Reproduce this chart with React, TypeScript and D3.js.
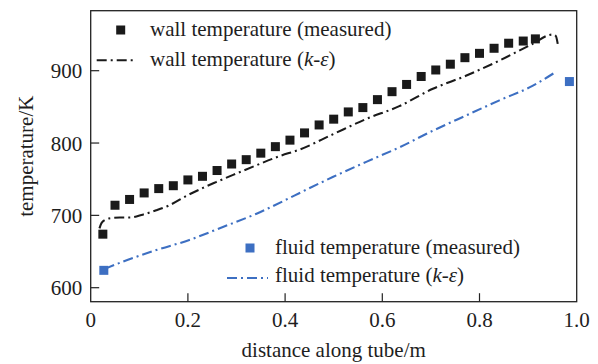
import React from "react";
import * as d3 from "d3";

// ---- data ----
const wallMeasuredX = [0.025, 0.05, 0.08, 0.11, 0.14, 0.17, 0.2, 0.23, 0.26, 0.29, 0.32, 0.35, 0.38, 0.41, 0.44, 0.47, 0.5, 0.53, 0.56, 0.59, 0.62, 0.65, 0.68, 0.71, 0.74, 0.77, 0.8, 0.83, 0.86, 0.89, 0.915];
const wallMeasuredT = [674, 714, 722, 731, 737, 741, 749, 754, 762, 771, 777, 786, 795, 804, 814, 825, 833, 843, 849, 860, 871, 881, 892, 901, 909, 918, 924, 931, 938, 941, 944];

const wallModelX = [0.018, 0.022, 0.03, 0.04, 0.06, 0.08, 0.107, 0.135, 0.162, 0.197, 0.231, 0.258, 0.293, 0.34, 0.389, 0.43, 0.498, 0.566, 0.635, 0.704, 0.772, 0.841, 0.909, 0.95, 0.957, 0.961];
const wallModelT = [682, 689, 694, 696, 697, 697, 701, 707, 714, 727, 738, 746, 756, 769, 782, 791, 812, 833, 851, 875, 893, 914, 937, 950, 948, 937];

const fluidMeasuredX = [0.027, 0.985];
const fluidMeasuredT = [624, 885];

const fluidModelX = [0.029, 0.066, 0.135, 0.203, 0.272, 0.34, 0.409, 0.43, 0.498, 0.567, 0.635, 0.704, 0.772, 0.841, 0.909, 0.954];
const fluidModelT = [626, 636, 652, 666, 684, 702, 724, 731, 753, 774, 794, 817, 838, 859, 879, 897];

const xTicks = [0, 0.2, 0.4, 0.6, 0.8, 1.0];
const xTickLabels = ["0", "0.2", "0.4", "0.6", "0.8", "1.0"];
const yTicks = [600, 700, 800, 900];

const W = 598;
const H = 364;
const left = 90.7, right = 576.7, top = 10.7, bottom = 301.7;
const FONT = "Liberation Serif, Times New Roman, DejaVu Serif, serif";
const BLACK = "#1a1a1a";
const BLUE = "#3d6fc2";
const DASH = "10,4,2,4";
const TXT = "#1e1e1e";

export default function App() {
  const x = d3.scaleLinear().domain([0, 1]).range([left, right]);
  const y = d3.scaleLinear().domain([600, 900]).range([287.7, 70.7]);

  const wallLine = d3
    .line<number>()
    .x((_, i) => x(wallModelX[i]))
    .y((d) => y(d))
    .curve(d3.curveMonotoneX)(wallModelT) as string;

  const fluidLine = d3
    .line<number>()
    .x((_, i) => x(fluidModelX[i]))
    .y((d) => y(d))
    .curve(d3.curveMonotoneX)(fluidModelT) as string;

  const sq = 9;
  const fs = 21;
  const ts: React.CSSProperties = { fontFamily: FONT, fontSize: fs };
  const it: React.CSSProperties = { fontFamily: FONT, fontStyle: "italic" };

  return (
    <svg
      width={W}
      height={H}
      style={{ position: "absolute", left: 0, top: 0, background: "#fff", fontFamily: FONT }}
    >
      <rect x={0} y={0} width={W} height={H} fill="#fff" />
      {/* frame */}
      <rect x={left} y={top} width={right - left} height={bottom - top} fill="none" stroke="#222" strokeWidth={1.3} />

      {/* ticks */}
      {xTicks.map((t, i) => (
        <g key={"xt" + i}>
          {i > 0 && i < xTicks.length - 1 && (
            <line x1={x(t)} x2={x(t)} y1={bottom} y2={bottom - 8.5} stroke="#222" strokeWidth={1.2} />
          )}
          <text x={x(t)} y={bottom + 25.5} style={ts} textAnchor="middle" fill={TXT}>
            {xTickLabels[i]}
          </text>
        </g>
      ))}
      {yTicks.map((t, i) => (
        <g key={"yt" + i}>
          <line x1={left} x2={left + 8.5} y1={y(t)} y2={y(t)} stroke="#222" strokeWidth={1.2} />
          <text x={left - 8.5} y={y(t) + 7.5} style={ts} textAnchor="end" fill={TXT}>
            {t}
          </text>
        </g>
      ))}

      {/* axis titles */}
      <text x={(left + right) / 2} y={357} style={ts} textAnchor="middle" fill={TXT}>
        distance along tube/m
      </text>
      <text transform={`translate(33, ${(top + bottom) / 2}) rotate(-90)`} style={ts} textAnchor="middle" fill={TXT}>
        temperature/K
      </text>

      {/* series */}
      <path d={wallLine} fill="none" stroke={BLACK} strokeWidth={2.1} strokeDasharray={DASH} />
      <path d={fluidLine} fill="none" stroke={BLUE} strokeWidth={2.1} strokeDasharray={DASH} />
      {wallMeasuredT.map((t, i) => (
        <rect key={"w" + i} x={x(wallMeasuredX[i]) - sq / 2} y={y(t) - sq / 2} width={sq} height={sq} fill={BLACK} />
      ))}
      {fluidMeasuredT.map((t, i) => (
        <rect key={"f" + i} x={x(fluidMeasuredX[i]) - sq / 2} y={y(t) - sq / 2} width={sq} height={sq} fill={BLUE} />
      ))}

      {/* legend top */}
      <rect x={120.7 - 4.5} y={30 - 4.5} width={9} height={9} fill={BLACK} />
      <text x={150} y={35.5} style={ts} fill={TXT}>wall temperature (measured)</text>
      <line x1={96.7} x2={136.7} y1={60.3} y2={60.3} stroke={BLACK} strokeWidth={2.1} strokeDasharray={DASH} />
      <text x={150} y={65.5} style={ts} fill={TXT}>
        wall temperature (<tspan style={it}>k</tspan>-<tspan style={it}>ε</tspan>)
      </text>

      {/* legend bottom */}
      <rect x={250 - 4.5} y={248 - 4.5} width={9} height={9} fill={BLUE} />
      <text x={275} y={253.5} style={ts} fill={TXT}>fluid temperature (measured)</text>
      <line x1={227} x2={268} y1={278} y2={278} stroke={BLUE} strokeWidth={2.1} strokeDasharray={DASH} />
      <text x={275} y={281.5} style={ts} fill={TXT}>
        fluid temperature (<tspan style={it}>k</tspan>-<tspan style={it}>ε</tspan>)
      </text>
    </svg>
  );
}
